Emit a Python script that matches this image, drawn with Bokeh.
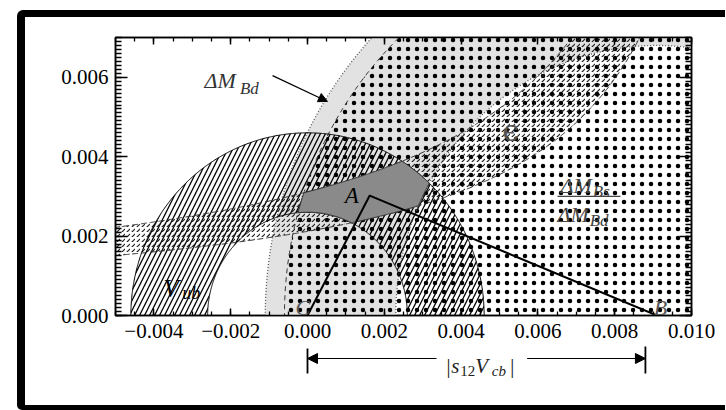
import numpy as np
from bokeh.plotting import figure
from bokeh.layouts import column, row
from bokeh.models import (Range1d, LinearAxis, SingleIntervalTicker, CustomJSTickFormatter,
                          Label, Arrow, NormalHead, Div)
from bokeh.embed import file_html
from bokeh.resources import INLINE

# ---------------- values ----------------
x_limits = [-0.005, 0.010]
y_limits = [0.0, 0.007]
major_step = 0.002

c_point = [0.0, 0.0]                    # C
b_point = [0.0091, 0.0]                 # B
apex_point = [0.00162, 0.00302]         # A (apex of the triangle)
tri_x = [c_point[0], apex_point[0], b_point[0]]
tri_y = [c_point[1], apex_point[1], b_point[1]]

vub_radii = [0.0026, 0.0046]            # |V_ub| annulus about C
bd_radii = [0.0068, 0.0102]             # Delta M_Bd annulus about B
bs_radius = 0.0097                      # Delta M_Bs / Delta M_Bd bound about B
eps_x0 = 0.01241                        # epsilon hyperbolas y = c / (x0 - x)
eps_c = [0.0000263, 0.00003865]
s12vcb = 0.0088                         # |s12 Vcb| length

# ---------------- geometry helpers ----------------
def arc(cx, cy, r, a0, a1, n=500):
    t = np.linspace(a0, a1, n)
    return cx + r * np.cos(t), cy + r * np.sin(t)

def ring(cx, cy, r_in, r_out):
    xo, yo = arc(cx, cy, r_out, 0, np.pi)
    xi, yi = arc(cx, cy, r_in, np.pi, 0)
    return np.concatenate([xo, xi]), np.concatenate([yo, yi])

def eps_curve(c, y_top=0.0076):
    x_end = eps_x0 - c / y_top
    xs = np.linspace(x_limits[0] - 0.0005, x_end, 500)
    return xs, c / (eps_x0 - xs)

def inside(x, y):
    rc = np.hypot(x - c_point[0], y - c_point[1])
    rb = np.hypot(x - b_point[0], y - b_point[1])
    e = y * (eps_x0 - x)
    return ((y >= 0) & (rc >= vub_radii[0]) & (rc <= vub_radii[1]) &
            (rb >= bd_radii[0]) & (rb <= min(bd_radii[1], bs_radius)) &
            (e >= eps_c[0]) & (e <= eps_c[1]))

# allowed region: boundary traced from its centroid
gx, gy = np.meshgrid(np.linspace(-0.002, 0.006, 400), np.linspace(0, 0.006, 300))
msk = inside(gx, gy)
px0, py0 = gx[msk].mean(), gy[msk].mean()
ts = np.arange(0, 0.006, 2e-6)
ax_, ay_ = [], []
for th in np.linspace(0, 2 * np.pi, 721):
    xs = px0 + ts * np.cos(th)
    ys = py0 + ts * np.sin(th)
    ok = inside(xs, ys)
    k = np.argmin(ok) if not ok.all() else len(ok)
    k = max(k - 1, 0)
    ax_.append(xs[k]); ay_.append(ys[k])

# ---------------- main figure ----------------
p = figure(frame_width=576, frame_height=278,
           x_range=Range1d(*x_limits), y_range=Range1d(*y_limits),
           output_backend="svg", toolbar_location=None,
           min_border_left=90, min_border_right=34, min_border_top=20, min_border_bottom=30,
           background_fill_color="white", border_fill_color="white")
p.grid.visible = False
p.outline_line_color = "black"
p.outline_line_width = 1.5

fmt = CustomJSTickFormatter(code="""
const v = Math.abs(tick) < 1e-9 ? 0 : tick;
return v.toFixed(3).replace('-', '\\u2212');
""")
blank = CustomJSTickFormatter(code="return '';")

def style_axis(ax, interval, minor, major_len, minor_len, labels):
    ax.ticker = SingleIntervalTicker(interval=interval, num_minor_ticks=minor)
    ax.axis_line_color = "black"
    ax.axis_line_width = 1.5
    ax.major_tick_in = major_len
    ax.major_tick_out = 0
    ax.minor_tick_in = minor_len
    ax.minor_tick_out = 0
    ax.major_tick_line_width = 1.5
    ax.minor_tick_line_width = 1.3
    ax.major_tick_line_color = "black"
    ax.minor_tick_line_color = "black"
    ax.major_label_text_font = "Liberation Serif"
    ax.major_label_text_font_size = "21px"
    ax.major_label_text_color = "black"
    ax.formatter = fmt if labels else blank

style_axis(p.xaxis[0], major_step, 4, 7, 4, True)
style_axis(p.yaxis[0], major_step, 20, 12, 6, True)
p.xaxis[0].major_label_standoff = 8
p.yaxis[0].major_label_standoff = 7
top_ax = LinearAxis()
right_ax = LinearAxis()
style_axis(top_ax, major_step, 4, 7, 4, False)
style_axis(right_ax, major_step, 20, 12, 6, False)
p.add_layout(top_ax, "above")
p.add_layout(right_ax, "right")

# Delta M_Bd band (light grey)
bx, by = ring(b_point[0], b_point[1], bd_radii[0], bd_radii[1])
p.patch(bx, by, fill_color="#e2e2e2", line_color=None)

# |V_ub| annulus (hatched)
vx, vy = ring(c_point[0], c_point[1], vub_radii[0], vub_radii[1])
p.patch(vx, vy, fill_color=None, line_color=None,
        hatch_pattern="/", hatch_color="black", hatch_scale=10, hatch_weight=1.3)

# Delta M_Bs / Delta M_Bd region (stippled)
sx_, sy_ = arc(b_point[0], b_point[1], bs_radius, 0, np.pi)
p.patch(sx_, sy_, fill_color=None, line_color=None,
        hatch_pattern=".", hatch_color="black", hatch_scale=9, hatch_weight=1.1)

# epsilon band (short dashes)
ex_lo, ey_lo = eps_curve(eps_c[0])
ex_hi, ey_hi = eps_curve(eps_c[1])
p.patch(np.concatenate([ex_hi, ex_lo[::-1]]), np.concatenate([ey_hi, ey_lo[::-1]]),
        fill_color=None, line_color=None,
        hatch_pattern=",", hatch_color="#222222", hatch_scale=5, hatch_weight=1.2)

# boundaries
for r in bd_radii:
    xx, yy = arc(b_point[0], b_point[1], r, 0, np.pi)
    p.line(xx, yy, line_color="#555555", line_width=1.3, line_dash="1 2")
xx, yy = arc(b_point[0], b_point[1], bs_radius, 0, np.pi)
p.line(xx, yy, line_color="#333333", line_width=1, line_dash="5 4")
for xx, yy in [(ex_lo, ey_lo), (ex_hi, ey_hi)]:
    p.line(xx, yy, line_color="#333333", line_width=1, line_dash="6 3")
for r in vub_radii:
    xx, yy = arc(c_point[0], c_point[1], r, 0, np.pi)
    p.line(xx, yy, line_color="black", line_width=1)

# allowed region A
p.patch(ax_, ay_, fill_color="#8a8a8a", line_color="#333333", line_width=1)

# triangle
p.line(tri_x, tri_y, line_color="black", line_width=2)

# ---------------- labels ----------------
def lab(fig, x, y, text, size, color="black", style="italic", align="left",
        baseline="alphabetic", font="Liberation Serif"):
    fig.add_layout(Label(x=x, y=y, text=text, text_font=font, text_font_size=size,
                         text_font_style=style, text_color=color, text_align=align,
                         text_baseline=baseline))

lab(p, -0.00268, 0.00592, "ΔM", "22px", "#333333")
lab(p, -0.00176, 0.00572, "Bd", "17px", "#333333")
p.add_layout(Arrow(end=NormalHead(size=9, fill_color="black", line_color="black"),
                   x_start=-0.00091, y_start=0.00604, x_end=0.00052, y_end=0.00539,
                   line_color="black", line_width=1.2))

lab(p, 0.00529, 0.00466, "ϵ", "30px", "#555555", style="normal", align="center",
    baseline="middle", font="DejaVu Serif")

lab(p, 0.00659, 0.00327, "ΔM", "22px", "#444444")
lab(p, 0.00743, 0.00313, "Bs", "17px", "#444444")
p.add_layout(Arrow(end=None, x_start=0.00651, y_start=0.00300, x_end=0.00815, y_end=0.00300,
                   line_color="#444444", line_width=1.2))
lab(p, 0.00651, 0.00254, "ΔM", "22px", "#444444")
lab(p, 0.00735, 0.00239, "Bd", "17px", "#444444")

lab(p, 0.00115, 0.00302, "A", "23px", "black", align="center", baseline="middle")
lab(p, -0.00375, 0.00068, "V", "25px", "black")
lab(p, -0.00326, 0.00056, "ub", "18px", "black")
lab(p, -0.00031, 0.00020, "C", "22px", "#555555")
lab(p, 0.00902, 0.00020, "B", "22px", "#555555")

# ---------------- dimension line |s12 Vcb| below the axis ----------------
p2 = figure(frame_width=576, frame_height=60, x_range=p.x_range, y_range=Range1d(60, 0),
            output_backend="svg", toolbar_location=None,
            x_axis_location=None, y_axis_location=None,
            min_border_left=90, min_border_right=34, min_border_top=0, min_border_bottom=0,
            background_fill_color="white", border_fill_color="white")
p2.grid.visible = False
p2.outline_line_color = None
y_arrow = 13
p2.add_layout(Arrow(end=NormalHead(size=10, fill_color="black", line_color="black"),
                    x_start=0.00336, y_start=y_arrow, x_end=c_point[0], y_end=y_arrow,
                    line_color="black", line_width=1))
p2.add_layout(Arrow(end=NormalHead(size=10, fill_color="black", line_color="black"),
                    x_start=0.00572, y_start=y_arrow, x_end=s12vcb, y_end=y_arrow,
                    line_color="black", line_width=1))
p2.segment(x0=[c_point[0], s12vcb], y0=[3, 1], x1=[c_point[0], s12vcb], y1=[28, 28],
           line_color="black", line_width=1.8)
lab(p2, 0.00359, 20, "|s", "21px", "#222222")
lab(p2, 0.00398, 25, "12", "15px", "#222222", style="normal")
lab(p2, 0.00437, 20, "V", "21px", "#222222")
lab(p2, 0.00480, 25, "cb", "15px", "#222222")
lab(p2, 0.00525, 20, "|", "21px", "#222222")

# ---------------- outer black frame (left, top, bottom strips) ----------------
hidden = {"overflow": "hidden", "scrollbar-width": "none"}
top_strip = Div(text="", width=708, height=7, margin=0,
                styles={"background-color": "black", "border-top-left-radius": "6px",
                        "overflow": "hidden"})
left_strip = Div(text="", width=8, height=328 + 60, margin=0,
                 styles={"background-color": "black", "overflow": "hidden"})
bottom_strip = Div(text="", width=708, height=5, margin=0,
                   styles={"background-color": "black", "border-bottom-left-radius": "6px",
                           "overflow": "hidden"})

inner = column(p, p2, spacing=0, styles=hidden)
middle = row(left_strip, inner, spacing=0, styles=hidden)
layout = column(top_strip, middle, bottom_strip, spacing=0, margin=(10, 0, 0, 17),
                styles=hidden)

html = file_html(layout, INLINE)
html = html.replace("<head>",
                    "<head><style>html, body { overflow: hidden; scrollbar-width: none; }</style>", 1)
open("out.html", "w").write(html)
